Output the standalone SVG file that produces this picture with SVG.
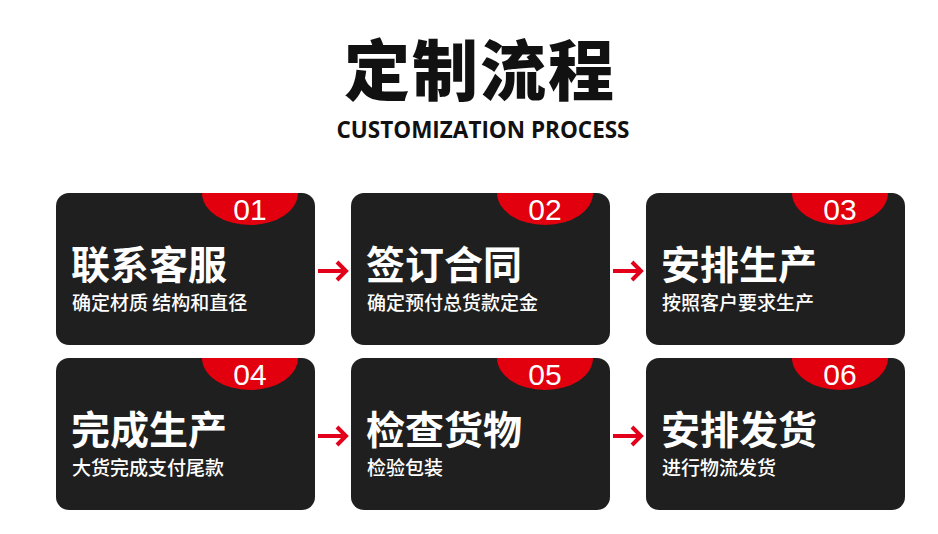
<svg xmlns="http://www.w3.org/2000/svg" width="938" height="534" viewBox="0 0 938 534">
<defs>
<style>
.card{fill:#1f1f1f}
.badge{fill:#e2000f}
.num{font-family:"Liberation Sans",Arial,sans-serif;font-size:30px;fill:#ffffff;text-anchor:middle}
.ttl{font-family:"Noto Sans CJK SC","Noto Sans",sans-serif;font-weight:700;font-size:39px;fill:#ffffff}
.sub{font-family:"Noto Sans CJK SC","Noto Sans",sans-serif;font-weight:500;font-size:19px;fill:#ffffff}
.arr{fill:none;stroke:#e2001a;stroke-width:4}
</style>
<clipPath id="c1"><rect x="56" y="193" width="259" height="152" rx="13"/></clipPath>
<clipPath id="c2"><rect x="351" y="193" width="259" height="152" rx="13"/></clipPath>
<clipPath id="c3"><rect x="646" y="193" width="259" height="152" rx="13"/></clipPath>
<clipPath id="c4"><rect x="56" y="358" width="259" height="152" rx="13"/></clipPath>
<clipPath id="c5"><rect x="351" y="358" width="259" height="152" rx="13"/></clipPath>
<clipPath id="c6"><rect x="646" y="358" width="259" height="152" rx="13"/></clipPath>
</defs>
<rect width="938" height="534" fill="#ffffff"/>
<g id="title">
<text x="480" y="95" text-anchor="middle" font-family="'Noto Sans CJK SC','Noto Sans',sans-serif" font-weight="900" font-size="66" fill="#111111" letter-spacing="2">定制流程</text>
<text x="483" y="138" text-anchor="middle" font-family="'Open Sans','Noto Sans',sans-serif" font-weight="700" font-size="22.5" fill="#111111">CUSTOMIZATION PROCESS</text>
</g>
<g id="node1">
<rect class="card" x="56" y="193" width="259" height="152" rx="13"/>
<ellipse class="badge" cx="250" cy="193" rx="48" ry="32" clip-path="url(#c1)"/>
<text class="num" x="250" y="220">01</text>
<text class="ttl" x="71" y="279">联系客服</text>
<text class="sub" x="72" y="310">确定材质 结构和直径</text>
</g>
<g id="node2">
<rect class="card" x="351" y="193" width="259" height="152" rx="13"/>
<ellipse class="badge" cx="545" cy="193" rx="48" ry="32" clip-path="url(#c2)"/>
<text class="num" x="545" y="220">02</text>
<text class="ttl" x="366" y="279">签订合同</text>
<text class="sub" x="367" y="310">确定预付总货款定金</text>
</g>
<g id="node3">
<rect class="card" x="646" y="193" width="259" height="152" rx="13"/>
<ellipse class="badge" cx="840" cy="193" rx="48" ry="32" clip-path="url(#c3)"/>
<text class="num" x="840" y="220">03</text>
<text class="ttl" x="661" y="279">安排生产</text>
<text class="sub" x="662" y="310">按照客户要求生产</text>
</g>
<g id="node4">
<rect class="card" x="56" y="358" width="259" height="152" rx="13"/>
<ellipse class="badge" cx="250" cy="358" rx="48" ry="32" clip-path="url(#c4)"/>
<text class="num" x="250" y="385">04</text>
<text class="ttl" x="71" y="444">完成生产</text>
<text class="sub" x="72" y="475">大货完成支付尾款</text>
</g>
<g id="node5">
<rect class="card" x="351" y="358" width="259" height="152" rx="13"/>
<ellipse class="badge" cx="545" cy="358" rx="48" ry="32" clip-path="url(#c5)"/>
<text class="num" x="545" y="385">05</text>
<text class="ttl" x="366" y="444">检查货物</text>
<text class="sub" x="367" y="475">检验包装</text>
</g>
<g id="node6">
<rect class="card" x="646" y="358" width="259" height="152" rx="13"/>
<ellipse class="badge" cx="840" cy="358" rx="48" ry="32" clip-path="url(#c6)"/>
<text class="num" x="840" y="385">06</text>
<text class="ttl" x="661" y="444">安排发货</text>
<text class="sub" x="662" y="475">进行物流发货</text>
</g>
<g id="connectors">
<path class="arr" d="M318 271H345M337 262L346 271L337 280"/>
<path class="arr" d="M613 271H640M632 262L641 271L632 280"/>
<path class="arr" d="M318 436H345M337 427L346 436L337 445"/>
<path class="arr" d="M613 436H640M632 427L641 436L632 445"/>
</g>
</svg>
